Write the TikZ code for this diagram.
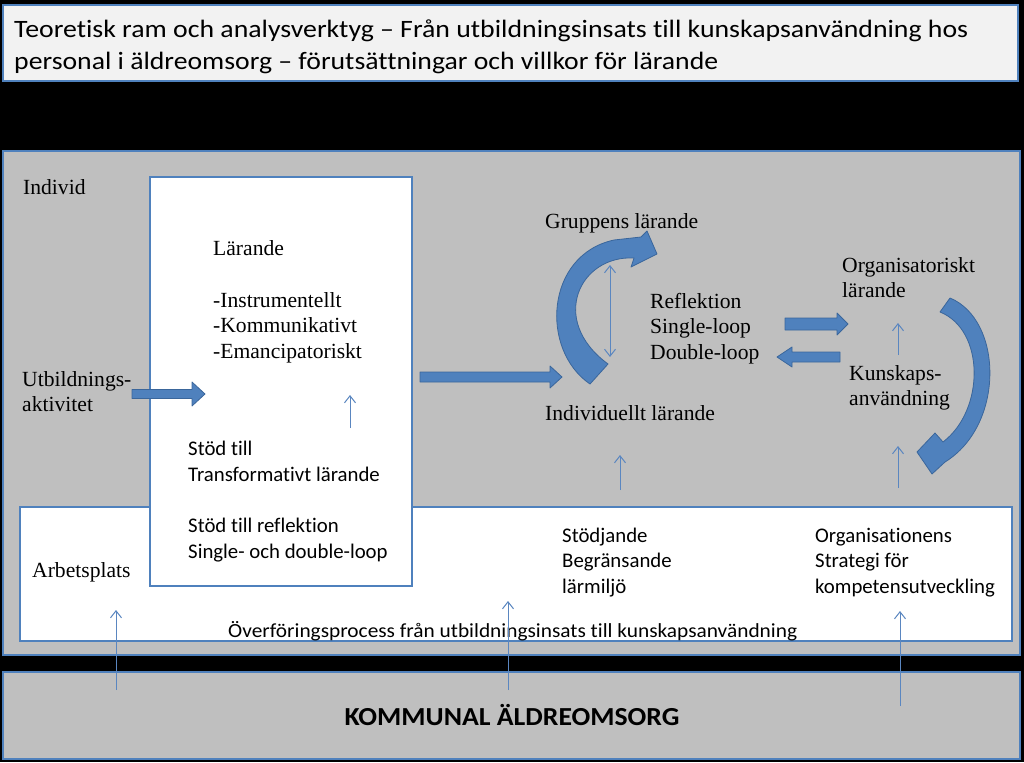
\documentclass[tikz,border=0pt]{standalone}
\usepackage{fontspec}
\usepackage{graphicx}
\setmainfont{Liberation Serif}
\newfontfamily\calfont[Ligatures=NoCommon]{Carlito}
\usetikzlibrary{arrows.meta}
\definecolor{boxblue}{HTML}{4F81BD}
\definecolor{arrfill}{HTML}{4F81BD}
\definecolor{arredge}{HTML}{3A669B}
\definecolor{thinblue}{HTML}{5A86C0}
\definecolor{panelgray}{HTML}{BFBFBF}
\definecolor{titlefill}{HTML}{F2F2F2}
\begin{document}
\begin{tikzpicture}[x=1pt,y=-1pt,
  panel/.style={draw=boxblue,line width=2.5pt},
  ser/.style={anchor=base west,inner sep=0pt,font=\fontsize{21.6}{25}\selectfont},
  cal/.style={anchor=base west,inner sep=0pt,font=\calfont\fontsize{20.8}{24}\selectfont},
  blockarr/.style={fill=arrfill,draw=arredge,line width=0.8pt,line join=round},
  thinarr/.style={draw=thinblue,line width=1pt,-{Straight Barb[length=7pt,width=11pt]}},
  thinarrb/.style={draw=thinblue,line width=1pt,{Straight Barb[length=7pt,width=11pt]}-{Straight Barb[length=7pt,width=11pt]}}]
\fill[black] (0,0) rectangle (1024,762);
\useasboundingbox (0,0) rectangle (1024,762);
% boxes
\draw[panel,fill=titlefill] (3,5) rectangle (1018,81);
\draw[panel,fill=panelgray] (3,151) rectangle (1020,655);
\draw[panel,fill=panelgray] (3,672) rectangle (1020,759);
\draw[panel,fill=white] (20,507) rectangle (1012,641);
\draw[panel,fill=white] (150,177) rectangle (412,586);
% title
\node[anchor=base west,inner sep=0pt] (t1) at (14,38) {\resizebox{954pt}{\height}{\calfont\fontsize{25}{30}\selectfont Teoretisk ram och analysverktyg – Från utbildningsinsats till kunskapsanvändning hos}};
\node[anchor=base west,inner sep=0pt] (t2) at (14,70) {\resizebox{704pt}{\height}{\calfont\fontsize{25}{30}\selectfont personal i äldreomsorg – förutsättningar och villkor för lärande}};
% serif texts
\node[ser] (individ) at (23,194) {Individ};
\node[ser] (lar) at (213,255) {Lärande};
\node[ser] (l1) at (213,307) {-Instrumentellt};
\node[ser] (l2) at (213,332) {-Kommunikativt};
\node[ser] (l3) at (213,358) {-Emancipatoriskt};
\node[ser] (utb1) at (22,386) {Utbildnings-};
\node[ser] (utb2) at (22,411) {aktivitet};
\node[ser] (arb) at (32,577) {Arbetsplats};
\node[ser] (grp) at (545,228) {Gruppens lärande};
\node[ser] (r1) at (650,308) {Reflektion};
\node[ser] (r2) at (650,333) {Single-loop};
\node[ser] (r3) at (650,359) {Double-loop};
\node[ser] (ind) at (545,420) {Individuellt lärande};
\node[ser] (org1) at (842,272) {Organisatoriskt};
\node[ser] (org2) at (842,297) {lärande};
\node[ser] (kun1) at (849,380) {Kunskaps-};
\node[ser] (kun2) at (849,405) {användning};
% calibri texts
\node[cal] (s1) at (188,455) {Stöd till};
\node[cal] (s2) at (188,481) {Transformativt lärande};
\node[cal] (s3) at (188,532) {Stöd till reflektion};
\node[cal] (s4) at (188,558) {Single- och double-loop};
\node[cal] (m1) at (562,542) {Stödjande};
\node[cal] (m2) at (562,567) {Begränsande};
\node[cal] (m3) at (562,593) {lärmiljö};
\node[cal] (o1) at (815,542) {Organisationens};
\node[cal] (o2) at (815,567) {Strategi för};
\node[cal] (o3) at (815,593) {kompetensutveckling};
\node[anchor=base west,inner sep=0pt] (ovf) at (228,637) {\resizebox{569pt}{\height}{\calfont\fontsize{20}{24}\selectfont Överföringsprocess från utbildningsinsats till kunskapsanvändning}};
\node[anchor=base,inner sep=0pt] (kom) at (512,725) {\resizebox{335pt}{\height}{\calfont\bfseries\fontsize{26}{30}\selectfont KOMMUNAL ÄLDREOMSORG}};
% block arrows
\draw[blockarr] (132,389.5) -- (192,389.5) -- (192,382) -- (205,394) -- (192,406) -- (192,398.5) -- (132,398.5) -- cycle;
\draw[blockarr] (420,372) -- (550,372) -- (550,366) -- (562,377) -- (550,388) -- (550,382) -- (420,382) -- cycle;
\draw[blockarr] (785,318) -- (837,318) -- (837,313) -- (848,324) -- (837,335) -- (837,330) -- (785,330) -- cycle;
\draw[blockarr] (840,352) -- (792,352) -- (792,347) -- (777,357) -- (792,367) -- (792,362) -- (840,362) -- cycle;
% curved arrows
\draw[blockarr] (590,384) .. controls (540,350) and (545,255) .. (614,240) -- (641,237) -- (647,231) -- (657,254) -- (631,267) -- (634,258) .. controls (580,255) and (548,320) .. (608,364) -- cycle;
\draw[blockarr] (950,298) .. controls (1003,320) and (1005,425) .. (945,462) -- (932,474) -- (917,452) -- (935,433) -- (943,442) .. controls (985,410) and (985,330) .. (940,312) -- cycle;
% thin arrows
\coordinate (a1s) at (350,428); \coordinate (a1e) at (350,395);
\coordinate (a2s) at (610,357); \coordinate (a2e) at (610,265);
\coordinate (a3s) at (898,355); \coordinate (a3e) at (898,323);
\coordinate (a4s) at (620,490); \coordinate (a4e) at (620,455);
\coordinate (a5s) at (898,488); \coordinate (a5e) at (898,446);
\coordinate (b1s) at (116,690); \coordinate (b1e) at (116,610);
\coordinate (b2s) at (508,690); \coordinate (b2e) at (508,601);
\coordinate (b3s) at (900,706); \coordinate (b3e) at (900,611);
\draw[thinarr] (a1s) -- (a1e);
\draw[thinarrb] (a2s) -- (a2e);
\draw[thinarr] (a3s) -- (a3e);
\draw[thinarr] (a4s) -- (a4e);
\draw[thinarr] (a5s) -- (a5e);
\draw[thinarr] (b1s) -- (b1e);
\draw[thinarr] (b2s) -- (b2e);
\draw[thinarr] (b3s) -- (b3e);
\end{tikzpicture}
\end{document}
